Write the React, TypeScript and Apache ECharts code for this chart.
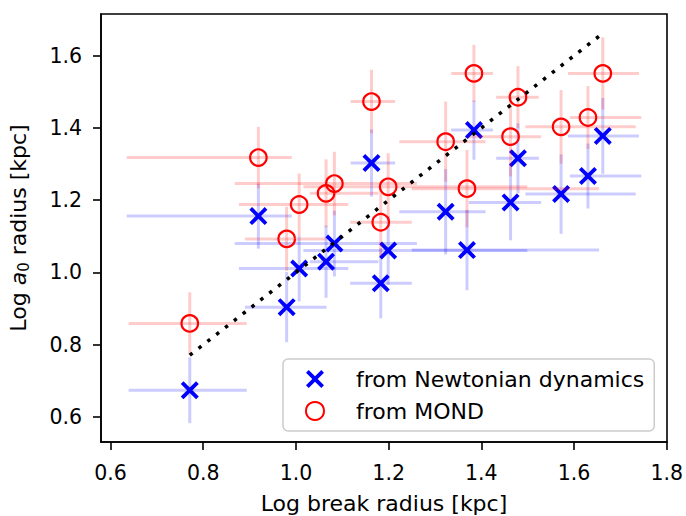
import React, { useEffect, useRef } from "react";
import * as echarts from "echarts";

// Log break radius [kpc] for each galaxy, with its error-bar span
const logBreakRadius = [0.771, 0.919, 0.980, 1.007, 1.065, 1.083, 1.163, 1.183, 1.199, 1.323, 1.369, 1.384, 1.463, 1.479, 1.572, 1.630, 1.662];
const breakRadiusLow = [0.639, 0.635, 0.890, 0.877, 1.030, 0.868, 1.118, 1.117, 1.016, 1.223, 1.250, 1.335, 1.373, 1.432, 1.495, 1.591, 1.587];
const breakRadiusHigh = [0.894, 0.991, 1.066, 1.113, 1.178, 1.261, 1.214, 1.250, 1.499, 1.409, 1.654, 1.425, 1.529, 1.524, 1.733, 1.745, 1.740];

// Log a0 radius from Newtonian dynamics
const newtonianA0 = [0.674, 1.156, 0.904, 1.011, 1.030, 1.080, 1.303, 0.970, 1.061, 1.168, 1.062, 1.394, 1.194, 1.316, 1.217, 1.267, 1.378];
const newtonianErr = [0.091, 0.090, 0.097, 0.091, 0.100, 0.091, 0.093, 0.097, 0.095, 0.118, 0.111, 0.082, 0.105, 0.097, 0.110, 0.090, 0.105];

// Log a0 radius from MOND
const mondA0 = [0.859, 1.318, 1.093, 1.188, 1.219, 1.246, 1.473, 1.139, 1.237, 1.362, 1.232, 1.551, 1.376, 1.485, 1.403, 1.429, 1.551];
const mondErr = [0.086, 0.085, 0.089, 0.086, 0.094, 0.088, 0.088, 0.095, 0.093, 0.111, 0.107, 0.079, 0.110, 0.086, 0.102, 0.087, 0.100];

const xTicks = [0.6, 0.8, 1.0, 1.2, 1.4, 1.6, 1.8];
const yTicks = [0.6, 0.8, 1.0, 1.2, 1.4, 1.6];

const seriesNames = ["from Newtonian dynamics", "from MOND"];

const FONT = "DejaVu Sans";
const CROSS_PATH =
  "path://M3,0 L10,7 L17,0 L20,3 L13,10 L20,17 L17,20 L10,13 L3,20 L0,17 L7,10 L0,3 Z";

function errorRenderer(color: string) {
  return (params: any, api: any) => {
    const x = api.value(0);
    const y = api.value(1);
    const xl = api.value(2);
    const xh = api.value(3);
    const yl = api.value(4);
    const yh = api.value(5);
    const pL = api.coord([xl, y]);
    const pR = api.coord([xh, y]);
    const pB = api.coord([x, yl]);
    const pT = api.coord([x, yh]);
    return {
      type: "group",
      children: [
        {
          type: "line",
          shape: { x1: pL[0], y1: pL[1], x2: pR[0], y2: pR[1] },
          style: { stroke: color, lineWidth: 3 },
        },
        {
          type: "line",
          shape: { x1: pB[0], y1: pB[1], x2: pT[0], y2: pT[1] },
          style: { stroke: color, lineWidth: 3 },
        },
      ],
    };
  };
}

export default function App() {
  const ref = useRef<HTMLDivElement>(null);

  useEffect(() => {
    if (!ref.current) return;
    const chart = echarts.init(ref.current, undefined, { renderer: "svg" });

    const nErrData = logBreakRadius.map((x, i) => [
      x, newtonianA0[i], breakRadiusLow[i], breakRadiusHigh[i],
      newtonianA0[i] - newtonianErr[i], newtonianA0[i] + newtonianErr[i],
    ]);
    const mErrData = logBreakRadius.map((x, i) => [
      x, mondA0[i], breakRadiusLow[i], breakRadiusHigh[i],
      mondA0[i] - mondErr[i], mondA0[i] + mondErr[i],
    ]);
    const nPts = logBreakRadius.map((x, i) => [x, newtonianA0[i]]);
    const mPts = logBreakRadius.map((x, i) => [x, mondA0[i]]);
    const lo = Math.min(...logBreakRadius);
    const hi = Math.max(...logBreakRadius);
    const oneToOne = [[lo, lo], [hi, hi]];

    chart.setOption({
      animation: false,
      backgroundColor: "#fff",
      textStyle: { fontFamily: FONT },
      grid: {
        left: 101, right: 19, top: 14, bottom: 74,
        outerBoundsMode: "none",
        containLabel: false,
        show: true, borderColor: "#000", borderWidth: 1.6, backgroundColor: "transparent",
      },
      xAxis: {
        type: "value",
        min: 0.5795,
        max: 1.8005,
        name: "Log break radius [kpc]",
        nameLocation: "middle",
        nameGap: 50,
        nameTextStyle: { fontSize: 22, color: "#000", fontFamily: FONT },
        axisLine: { show: true, onZero: false, lineStyle: { color: "#000", width: 1.6 } },
        axisTick: { show: true, length: 8, customValues: xTicks, lineStyle: { color: "#000", width: 1.6 } },
        axisLabel: {
          customValues: xTicks,
          formatter: (v: number) => v.toFixed(1),
          fontSize: 20.5, color: "#000", margin: 20, fontFamily: FONT,
        },
        splitLine: { show: false },
      },
      yAxis: {
        type: "value",
        min: 0.5308,
        max: 1.7154,
        name: "{n|Log }{i|a}{s|0}{n| radius [kpc]}",
        nameLocation: "middle",
        nameRotate: 90,
        nameGap: 70,
        nameTextStyle: {
          fontSize: 22, color: "#000", fontFamily: FONT,
          rich: {
            n: { fontSize: 22, fontFamily: FONT, color: "#000" },
            i: { fontSize: 22, fontFamily: FONT, fontStyle: "italic", color: "#000" },
            s: { fontSize: 15, fontFamily: FONT, color: "#000", padding: [10, 0, 0, 0] },
          },
        },
        axisLine: { show: true, onZero: false, lineStyle: { color: "#000", width: 1.6 } },
        axisTick: { show: true, length: 8, customValues: yTicks, lineStyle: { color: "#000", width: 1.6 } },
        axisLabel: {
          customValues: yTicks,
          formatter: (v: number) => v.toFixed(1),
          fontSize: 20.5, color: "#000", margin: 19, fontFamily: FONT,
        },
        splitLine: { show: false },
      },
      legend: {
        orient: "vertical",
        left: 283,
        top: 359,
        padding: [9, 10, 9, 22],
        itemGap: 10,
        itemWidth: 18,
        itemHeight: 18,
        borderColor: "#cccccc",
        borderWidth: 1.5,
        borderRadius: 5,
        backgroundColor: "rgba(255,255,255,0.8)",
        data: seriesNames,
        formatter: (name: string) => `{g|}{t|${name}}`,
        textStyle: {
          fontSize: 22, color: "#000", fontFamily: FONT,
          rich: {
            g: { width: 27 },
            t: { fontSize: 22, color: "#000", fontFamily: FONT },
          },
        },
      },
      series: [
        {
          type: "custom",
          name: "nerr",
          renderItem: errorRenderer("rgba(0,0,255,0.2)"),
          data: nErrData,
          encode: { x: 0, y: 1 },
          silent: true,
          z: 1,
        },
        {
          type: "scatter",
          name: seriesNames[0],
          data: nPts,
          symbol: CROSS_PATH,
          symbolSize: 18,
          itemStyle: { color: "#0000ff", opacity: 1 },
          z: 2,
        },
        {
          type: "custom",
          name: "merr",
          renderItem: errorRenderer("rgba(255,0,0,0.2)"),
          data: mErrData,
          encode: { x: 0, y: 1 },
          silent: true,
          z: 3,
        },
        {
          type: "scatter",
          name: seriesNames[1],
          data: mPts,
          symbol: "circle",
          symbolSize: 16.5,
          itemStyle: { color: "rgba(0,0,0,0)", borderColor: "#ff0000", borderWidth: 2.2, opacity: 1 },
          z: 4,
        },
        {
          type: "line",
          name: "one-to-one",
          data: oneToOne,
          showSymbol: false,
          symbol: "none",
          lineStyle: { color: "#000", width: 3.5, type: [3.5, 7.7], cap: "butt" },
          z: 5,
        },
      ],
    });

    return () => chart.dispose();
  }, []);

  return (
    <div
      ref={ref}
      style={{ position: "fixed", left: 0, top: 0, width: 686, height: 516 }}
    />
  );
}
